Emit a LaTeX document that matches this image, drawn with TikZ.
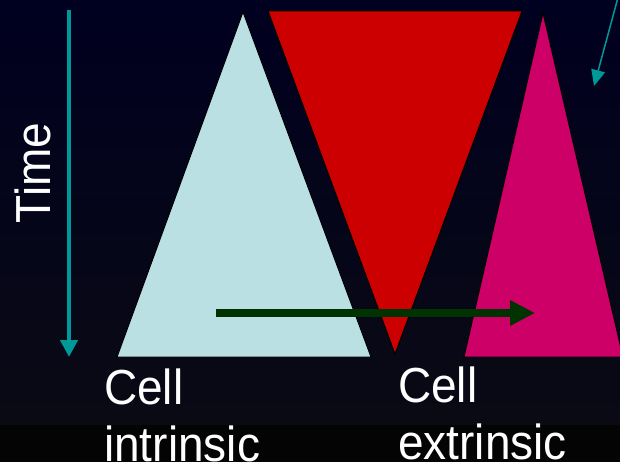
\documentclass[tikz,border=0pt]{standalone}
\usepackage{fontspec}
\setmainfont{Liberation Sans}
\usetikzlibrary{arrows.meta}
\definecolor{bgtop}{RGB}{0,0,32}
\definecolor{bgbot}{RGB}{10,10,20}
\definecolor{bgstrip}{RGB}{4,4,4}
\definecolor{lightcyan}{RGB}{187,224,227}
\definecolor{redtri}{RGB}{204,0,0}
\definecolor{magentatri}{RGB}{204,0,102}
\definecolor{tealarrow}{RGB}{0,153,153}
\definecolor{darkgreen}{RGB}{0,51,0}
\newcommand{\tallt}[1]{\scalebox{1}[1.07]{#1}}
\tikzset{
  tri/.style={draw=black, line width=1pt, line join=miter},
  label text/.style={text=white, font=\fontsize{46}{56}\selectfont, inner sep=0pt, anchor=base west},
}
\begin{document}
\begin{tikzpicture}[x=1pt,y=-1pt]
\useasboundingbox (0,0) rectangle (620,462);
\clip (0,0) rectangle (620,462);
% background
\shade[top color=bgtop, bottom color=bgbot] (0,0) rectangle (620,425);
\fill[bgstrip] (0,425) rectangle (620,462);
% triangles
\filldraw[tri, fill=lightcyan] (243,12) -- (117,357) -- (371,357) -- cycle;
\filldraw[tri, fill=redtri] (268,11) -- (522,11) -- (395,354) -- cycle;
\filldraw[tri, fill=magentatri] (543,13) -- (464,357) -- (623,357) -- cycle;
% time arrow
\coordinate (timetop) at (69,10);
\coordinate (timebot) at (69,357);
\draw[tealarrow, line width=4.5pt, -{Triangle[length=17pt,width=17pt]}] (timetop) -- (timebot);
\node[text=white, font=\fontsize{46}{56}\selectfont, rotate=90, anchor=base, inner sep=0pt] (time) at (50,173) {\tallt{Time}};
% small arrow top right
\coordinate (smallstart) at (619.5,-8);
\coordinate (smallend) at (594,86);
\draw[tealarrow, line width=1.5pt, -{Triangle[length=16pt,width=14pt]}] (smallstart) -- (smallend);
% green arrow
\coordinate (gstart) at (216,313);
\coordinate (gend) at (535,313);
\draw[darkgreen, line width=8pt, -{Triangle[length=25pt,width=24pt]}] (gstart) -- (gend);
% labels
\node[label text] (cell1) at (104,404) {\tallt{Cell}};
\node[label text] (intr) at (104,461) {\tallt{intrinsic}};
\node[label text] (cell2) at (398,402) {\tallt{Cell}};
\node[label text] (extr) at (398,459) {\tallt{extrinsic}};
\end{tikzpicture}
\end{document}
